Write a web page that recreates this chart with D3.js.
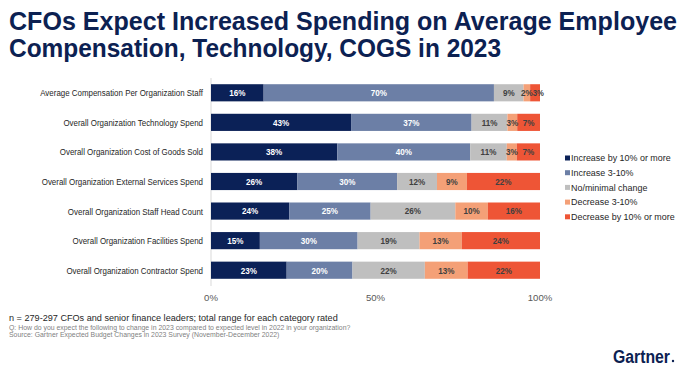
<!DOCTYPE html>
<html>
<head>
<meta charset="utf-8">
<script src="https://cdn.jsdelivr.net/npm/d3@7"></script>
<style>
  body { margin: 0; background: #fff; }
  svg { font-family: "Liberation Sans", Arial, sans-serif; display: block; }
</style>
</head>
<body>
<svg width="692" height="370"></svg>
<script>
// data
var categories = [
    'Average Compensation Per Organization Staff',
    'Overall Organization Technology Spend',
    'Overall Organization Cost of Goods Sold',
    'Overall Organization External Services Spend',
    'Overall Organization Staff Head Count',
    'Overall Organization Facilities Spend',
    'Overall Organization Contractor Spend'
];
var seriesNames = ['Increase by 10% or more', 'Increase 3-10%', 'No/minimal change',
                   'Decrease 3-10%', 'Decrease by 10% or more'];
var incr10 = [16, 43, 38, 26, 24, 15, 23];
var incr3 = [70, 37, 40, 30, 25, 30, 20];
var noChange = [9, 11, 11, 12, 26, 19, 22];
var decr3 = [2, 3, 3, 9, 10, 13, 13];
var decr10 = [3, 7, 7, 22, 16, 24, 22];
var ticks = [0, 0.5, 1];

var colors = ['#0b2157', '#6c7fa6', '#bfbfbf', '#f4a077', '#ee5536'];
var labelColors = ['#fff', '#fff', '#404040', '#404040', '#404040'];

var rows = categories.map(function(c, i) {
    return {cat: c, s0: incr10[i], s1: incr3[i], s2: noChange[i], s3: decr3[i], s4: decr10[i]};
});
var keys = ['s0', 's1', 's2', 's3', 's4'];
var stacked = d3.stack().keys(keys).offset(d3.stackOffsetExpand)(rows);

var svg = d3.select('svg');

// narrow text like the slide's condensed font: place at (x, y) and scale it horizontally
function narrowAt(x, y, k) {
    return 'translate(' + x + ',' + y + ') scale(' + k + ',1)';
}

// title
var title = svg.append('g').attr('fill', '#0c2152')
    .attr('font-weight', 'bold').attr('font-size', 25);
title.append('text').attr('x', 9).attr('y', 30)
    .attr('textLength', 668).attr('lengthAdjust', 'spacingAndGlyphs')
    .text('CFOs Expect Increased Spending on Average Employee');
title.append('text').attr('x', 9).attr('y', 57)
    .attr('textLength', 492).attr('lengthAdjust', 'spacingAndGlyphs')
    .text('Compensation, Technology, COGS in 2023');

var x = d3.scaleLinear().domain([0, 1]).range([211, 540]);
var y = d3.scaleBand().domain(categories).range([78, 285]).paddingInner(0.42).paddingOuter(0.21);

// axis line at 0
svg.append('line')
    .attr('x1', x(0)).attr('x2', x(0))
    .attr('y1', 78).attr('y2', 286)
    .attr('stroke', '#d9d9d9').attr('stroke-width', 1);

// category labels
svg.append('g').selectAll('text')
    .data(categories).join('text')
    .attr('transform', function(d) { return narrowAt(203, y(d) + y.bandwidth()/2, 0.81); })
    .attr('dy', '0.35em')
    .attr('text-anchor', 'end')
    .attr('font-size', 9.8)
    .attr('fill', '#262626')
    .text(function(d) { return d; });

// bars
var layers = svg.append('g').selectAll('g')
    .data(stacked).join('g')
    .attr('fill', function(d, i) { return colors[i]; });
layers.selectAll('rect')
    .data(function(d) { return d; }).join('rect')
    .attr('x', function(d) { return x(d[0]); })
    .attr('width', function(d) { return x(d[1]) - x(d[0]); })
    .attr('y', function(d) { return y(d.data.cat); })
    .attr('height', y.bandwidth());

// value labels
var valLayers = svg.append('g').selectAll('g')
    .data(stacked).join('g')
    .attr('fill', function(d, i) { return labelColors[i]; })
    .attr('font-size', 9.2)
    .attr('font-weight', 'bold');
valLayers.each(function(layer, li) {
    var last = li === keys.length - 1;
    function narrow(d) { return last && x(d[1]) - x(d[0]) < 12; }
    d3.select(this).selectAll('text')
        .data(layer).join('text')
        // tiny end segments: the label starts at the segment and runs past the bar
        .attr('text-anchor', function(d) { return narrow(d) ? 'start' : 'middle'; })
        .attr('transform', function(d) {
            var cx = narrow(d) ? x(d[0]) + 2.5 : (x(d[0]) + x(d[1])) / 2;
            return narrowAt(cx, y(d.data.cat) + y.bandwidth()/2, narrow(d) ? 0.84 : 0.88);
        })
        .attr('dy', '0.36em')
        .text(function(d) { return d.data[layer.key] + '%'; });
});

// x tick labels
svg.append('g').selectAll('text')
    .data(ticks).join('text')
    .attr('x', function(d) { return x(d); })
    .attr('y', 301)
    .attr('text-anchor', 'middle')
    .attr('font-size', 9.6)
    .attr('fill', '#595959')
    .text(d3.format('.0%'));

// legend
var legend = svg.append('g').selectAll('g')
    .data(seriesNames).join('g')
    .attr('transform', function(d, i) { return 'translate(565,' + (158 + i * 14.7) + ')'; });
legend.append('rect')
    .attr('x', 0).attr('y', -2.5).attr('width', 5).attr('height', 5)
    .attr('fill', function(d, i) { return colors[i]; });
legend.append('text')
    .attr('transform', narrowAt(6, 0, 0.93))
    .attr('dy', '0.35em')
    .attr('font-size', 9.6)
    .attr('fill', '#262626')
    .text(function(d) { return d; });

// footnotes
svg.append('text')
    .attr('transform', narrowAt(9, 321, 0.93))
    .attr('font-size', 9.8).attr('fill', '#262626')
    .text('n = 279-297 CFOs and senior finance leaders; total range for each category rated');
svg.append('text').attr('x', 9).attr('y', 330)
    .attr('font-size', 6.9).attr('fill', '#7f7f7f')
    .text('Q: How do you expect the following to change in 2023 compared to expected level in 2022 in your organization?');
svg.append('text').attr('x', 9).attr('y', 337)
    .attr('font-size', 6.9).attr('fill', '#7f7f7f')
    .text('Source: Gartner Expected Budget Changes in 2023 Survey (November-December 2022)');

// logo
svg.append('text').attr('x', 613).attr('y', 363)
    .attr('font-size', 18).attr('font-weight', 'bold').attr('fill', '#0c2152')
    .attr('textLength', 57).attr('lengthAdjust', 'spacingAndGlyphs')
    .text('Gartner');
svg.append('circle').attr('cx', 673).attr('cy', 361).attr('r', 1.2).attr('fill', '#0c2152');
</script>
</body>
</html>
